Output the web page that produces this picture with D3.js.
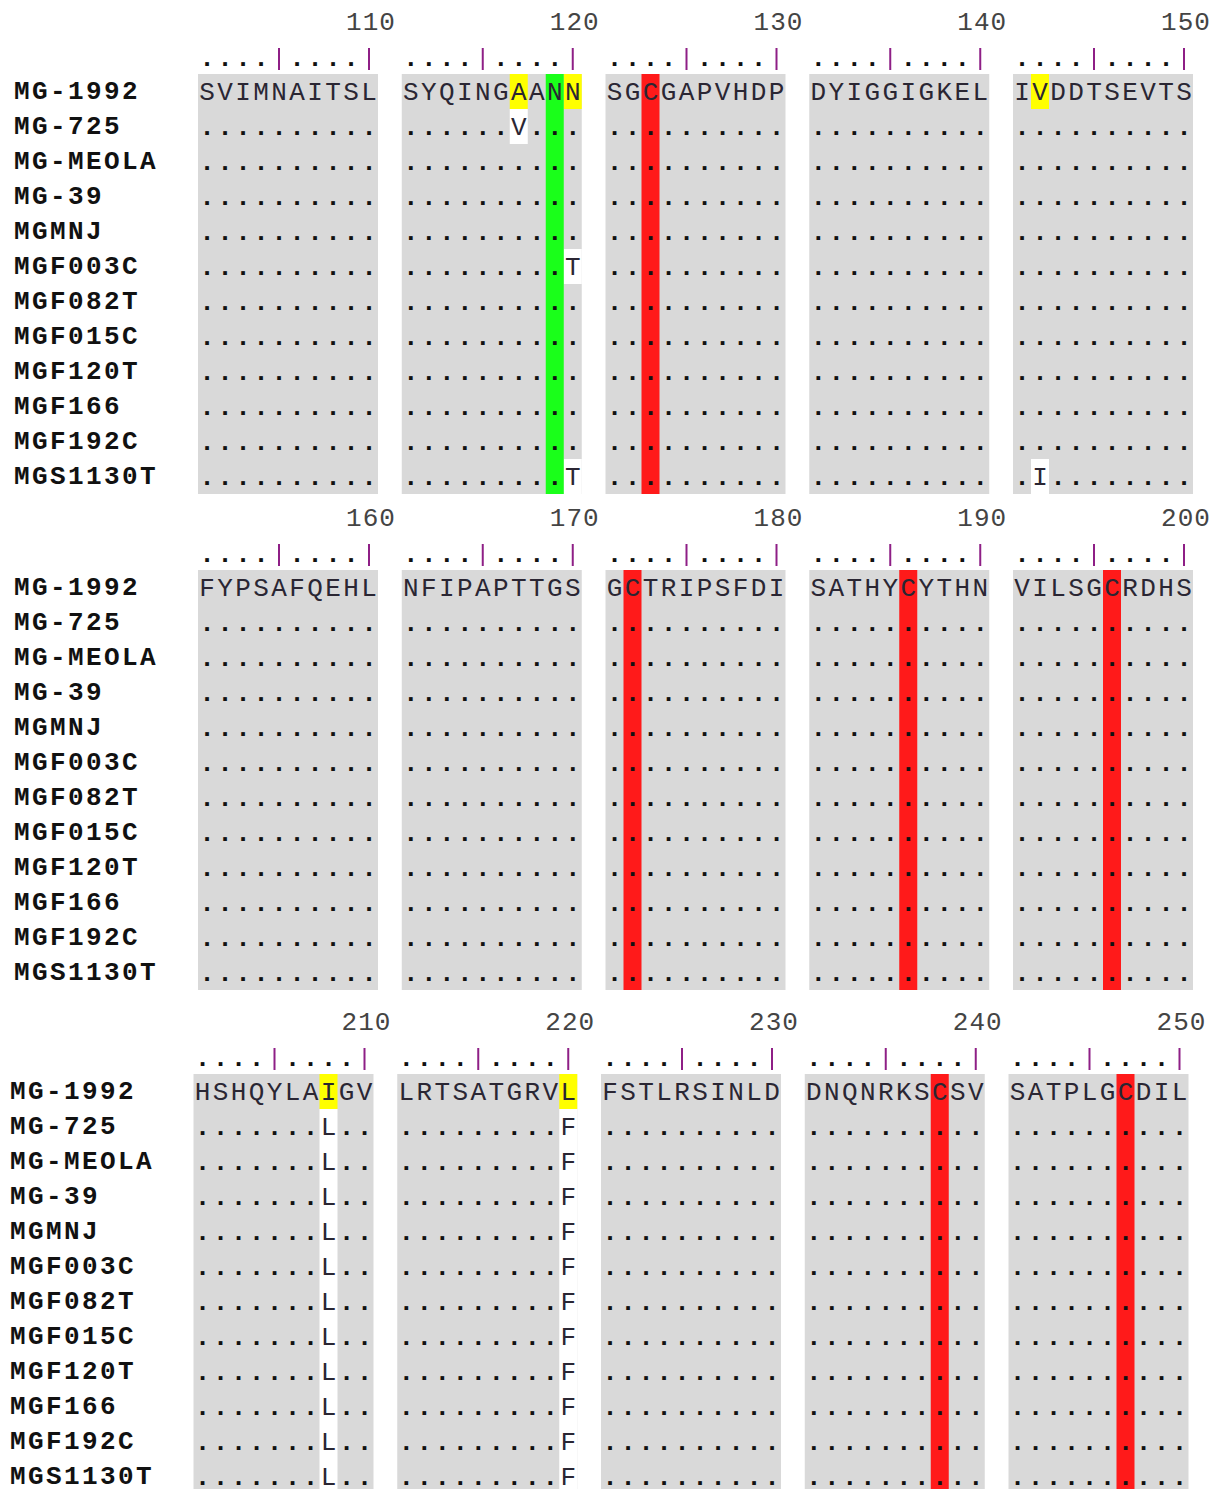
<!DOCTYPE html>
<html>
<head>
<meta charset="utf-8">
<script src="https://cdn.jsdelivr.net/npm/d3@7/dist/d3.min.js"></script>
<style>
  body { margin: 0; background: #fff; }
  svg { display: block; }
</style>
</head>
<body>
<svg id="chart"></svg>
<script>
// Alignment data
const names = ['MG-1992', 'MG-725', 'MG-MEOLA', 'MG-39', 'MGMNJ', 'MGF003C', 'MGF082T',
  'MGF015C', 'MGF120T', 'MGF166', 'MGF192C', 'MGS1130T']
const firstPos = 101
const blocks = ['SVIMNAITSL', 'SYQINGAANN', 'SGCGAPVHDP', 'DYIGGIGKEL', 'IVDDTSEVTS',
  'FYPSAFQEHL', 'NFIPAPTTGS', 'GCTRIPSFDI', 'SATHYCYTHN', 'VILSGCRDHS',
  'HSHQYLAIGV', 'LRTSATGRVL', 'FSTLRSINLD', 'DNQNRKSCSV', 'SATPLGCDIL']
const allButRef = names.slice(1)
const variants = [
  { pos: 117, aa: 'V', seqs: ['MG-725'] },
  { pos: 120, aa: 'T', seqs: ['MGF003C', 'MGS1130T'] },
  { pos: 142, aa: 'I', seqs: ['MGS1130T'] },
  { pos: 208, aa: 'L', seqs: allButRef },
  { pos: 220, aa: 'F', seqs: allButRef },
]
const yellowPos = [117, 120, 142, 208, 220]
const redPos = [123, 172, 186, 196, 238, 247]
const greenPos = [119]

// Layout
const W = 1221, H = 1489
const perSection = 50
const sections = [
  { top: 0, x0: 198, nameX: 14 },
  { top: 496, x0: 198, nameX: 14 },
  { top: 1000, x0: 193.5, nameX: 10 },
]
const rowTop = 74, rowH = 35, cw = 18, gap = 23.75

const svg = d3.select('#chart').attr('width', W).attr('height', H)

const blockX = d3.scaleBand().domain(d3.range(5))
  .range([0, 5 * cw * 10 + 4 * gap]).paddingInner(gap / (cw * 10 + gap))
const colX = d3.scaleBand().domain(d3.range(10)).range([0, cw * 10])
const rowY = d3.scaleBand().domain(names).range([0, names.length * rowH])

const seqFont = '"Courier New", "Liberation Mono", monospace'

// Lookup of variant residues
const varMap = new Map()
variants.forEach(v => v.seqs.forEach(n => varMap.set(n + ':' + v.pos, v.aa)))

sections.forEach((sec, s) => {
  const start = firstPos + s * perSection
  const g = svg.append('g').attr('transform', `translate(${sec.x0},${sec.top})`)
  const px = pos => {
    const i = pos - start
    return blockX(Math.floor(i / 10)) + colX(i % 10)
  }
  const inSec = p => p >= start && p < start + perSection
  const top = rowTop
  const gridH = rowY.range()[1]

  // Grey block backgrounds
  g.selectAll('.blk')
    .data(d3.range(5))
    .enter()
    .append('rect')
    .attr('x', b => blockX(b))
    .attr('y', top)
    .attr('width', blockX.bandwidth())
    .attr('height', gridH)
    .attr('fill', '#d9d9d9')

  // White cells for variant residues
  const cells = []
  variants.filter(v => inSec(v.pos)).forEach(v => v.seqs.forEach(n => cells.push({ n, pos: v.pos })))
  g.selectAll('.var')
    .data(cells)
    .enter()
    .append('rect')
    .attr('x', d => px(d.pos))
    .attr('y', d => top + rowY(d.n))
    .attr('width', colX.bandwidth())
    .attr('height', rowY.bandwidth())
    .attr('fill', '#fff')

  // Yellow on reference residue
  g.selectAll('.yel')
    .data(yellowPos.filter(inSec))
    .enter()
    .append('rect')
    .attr('x', d => px(d))
    .attr('y', top + rowY(names[0]))
    .attr('width', colX.bandwidth())
    .attr('height', rowY.bandwidth())
    .attr('fill', '#ffff00')

  // Full column highlights
  const cols = redPos.filter(inSec).map(p => ({ p, c: '#ff1a1a' }))
    .concat(greenPos.filter(inSec).map(p => ({ p, c: '#1aff1a' })))
  g.selectAll('.col')
    .data(cols)
    .enter()
    .append('rect')
    .attr('x', d => px(d.p))
    .attr('y', top)
    .attr('width', colX.bandwidth())
    .attr('height', gridH)
    .attr('fill', d => d.c)

  // Ruler: dots, ticks and numbers
  const ruler = d3.range(start, start + perSection)
  g.selectAll('.rdot')
    .data(ruler.filter(p => p % 5 !== 0))
    .enter()
    .append('text')
    .attr('x', d => px(d) + cw / 2)
    .attr('y', 66)
    .attr('text-anchor', 'middle')
    .attr('font-family', seqFont)
    .attr('font-size', '26px')
    .attr('font-weight', 'bold')
    .attr('fill', '#111')
    .text('.')
  g.selectAll('.rtick')
    .data(ruler.filter(p => p % 5 === 0))
    .enter()
    .append('line')
    .attr('x1', d => px(d) + cw / 2)
    .attr('x2', d => px(d) + cw / 2)
    .attr('y1', 48)
    .attr('y2', 70)
    .attr('stroke', '#8e1f86')
    .attr('stroke-width', 2)
  g.selectAll('.rnum')
    .data(ruler.filter(p => p % 10 === 0))
    .enter()
    .append('text')
    .attr('x', d => px(d) + cw / 2 + 2)
    .attr('y', 30)
    .attr('text-anchor', 'middle')
    .attr('font-family', seqFont)
    .attr('font-size', '26px')
    .attr('letter-spacing', '1px')
    .attr('fill', '#444')
    .text(d => d)

  // Residues
  const chars = []
  names.forEach((n, r) => {
    ruler.forEach(p => {
      const b = Math.floor((p - firstPos) / 10)
      let ch = r === 0 ? blocks[b][(p - firstPos) % 10] : '.'
      const v = varMap.get(n + ':' + p)
      if (v) ch = v
      chars.push({ n, p, ch })
    })
  })
  g.selectAll('.res')
    .data(chars)
    .enter()
    .append('text')
    .attr('x', d => px(d.p) + cw / 2)
    .attr('y', d => top + rowY(d.n) + 26)
    .attr('text-anchor', 'middle')
    .attr('font-family', seqFont)
    .attr('font-size', '26px')
    .attr('font-weight', d => d.ch === '.' ? 'bold' : 'normal')
    .attr('fill', d => d.ch === '.' ? '#111' : '#2a2633')
    .text(d => d.ch)

  // Sequence names
  svg.append('g')
    .selectAll('text')
    .data(names)
    .enter()
    .append('text')
    .attr('x', sec.nameX)
    .attr('y', d => sec.top + top + rowY(d) + 25)
    .attr('font-family', seqFont)
    .attr('font-size', '26px')
    .attr('font-weight', 'bold')
    .attr('letter-spacing', '2.4px')
    .attr('fill', '#111')
    .text(d => d)
})
</script>
</body>
</html>
